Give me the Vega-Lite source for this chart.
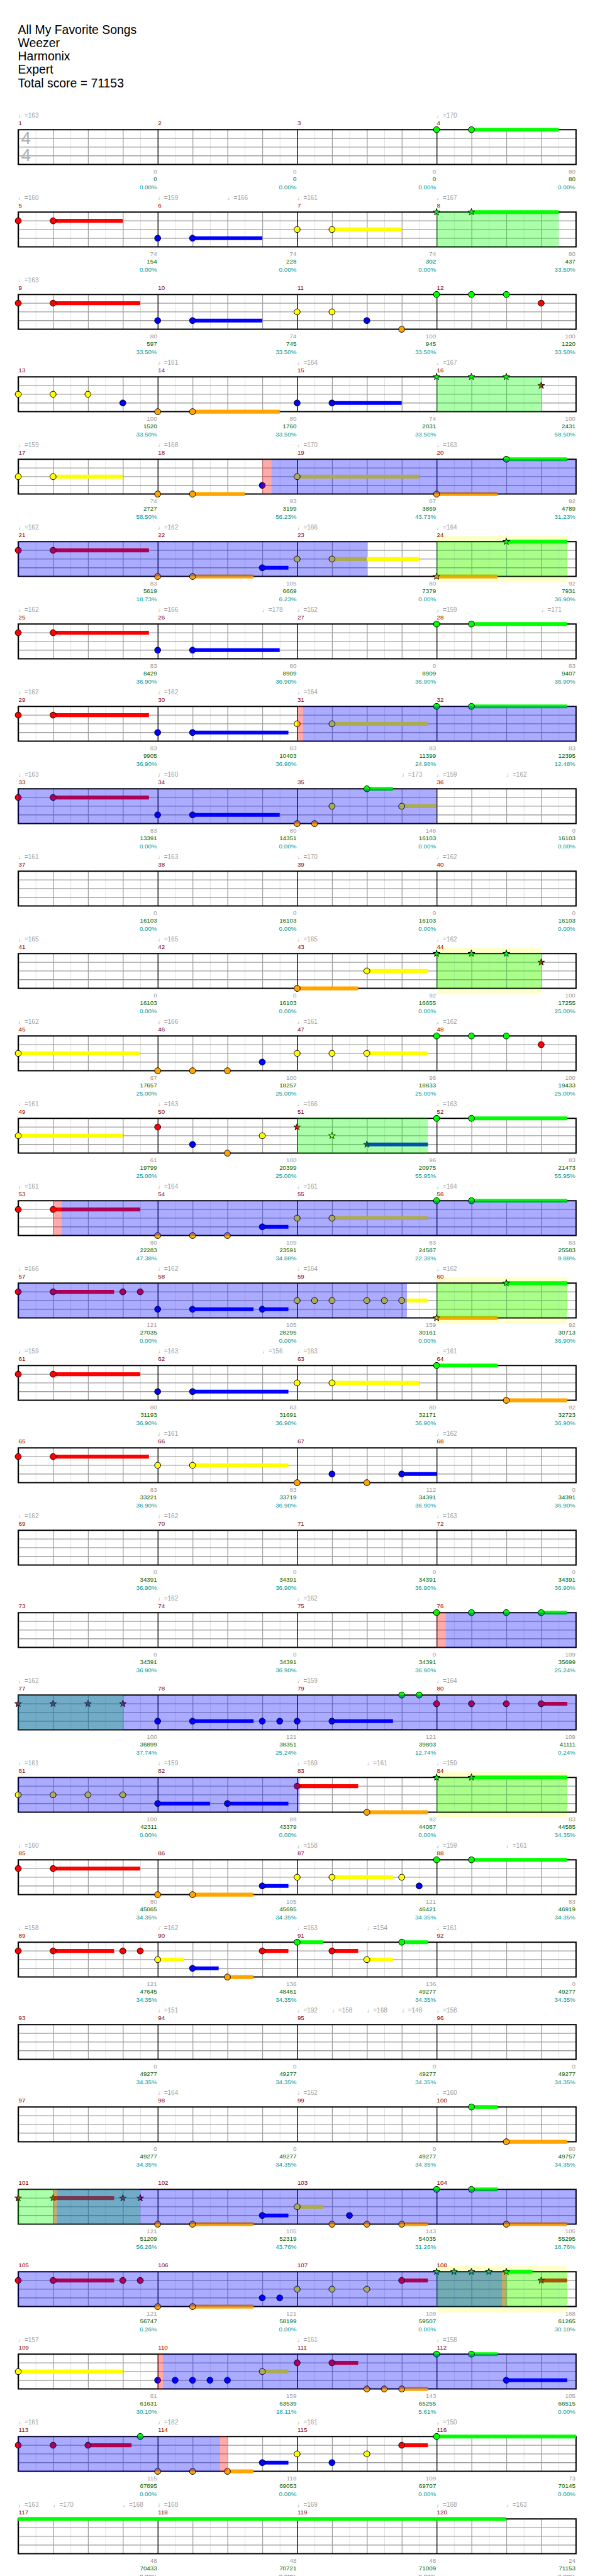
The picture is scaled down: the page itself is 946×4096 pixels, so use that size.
{
"$schema": "https://vega.github.io/schema/vega-lite/v6.json",
"padding": {"left": 0, "top": 37, "right": 0, "bottom": 0},
"title": {"text": ["All My Favorite Songs", "Weezer", "Harmonix", "Expert", "Total score = 71153"], "anchor": "start", "align": "left", "dx": 28.6, "fontSize": 19.4, "fontWeight": "normal", "font": "Liberation Sans", "lineHeight": 21.2, "offset": 30, "color": "#000000"},
"data": {"values": [
{"r":1,"k":"ts","t":"4"},
{"r":1,"k":"m","b":0,"e":4,"t":"1","s":"0","c":"0","p":"0.00%"},{"r":1,"k":"m","b":4,"e":8,"t":"2","s":"0","c":"0","p":"0.00%"},{"r":1,"k":"m","b":8,"e":12,"t":"3","s":"0","c":"0","p":"0.00%"},{"r":1,"k":"m","b":12,"e":16,"t":"4","s":"80","c":"80","p":"0.00%"},
{"r":2,"k":"m","b":0,"e":4,"t":"5","s":"74","c":"154","p":"0.00%"},{"r":2,"k":"m","b":4,"e":8,"t":"6","s":"74","c":"228","p":"0.00%"},{"r":2,"k":"m","b":8,"e":12,"t":"7","s":"74","c":"302","p":"0.00%"},{"r":2,"k":"m","b":12,"e":16,"t":"8","s":"80","c":"437","p":"33.50%"},
{"r":3,"k":"m","b":0,"e":4,"t":"9","s":"80","c":"597","p":"33.50%"},{"r":3,"k":"m","b":4,"e":8,"t":"10","s":"74","c":"745","p":"33.50%"},{"r":3,"k":"m","b":8,"e":12,"t":"11","s":"100","c":"945","p":"33.50%"},{"r":3,"k":"m","b":12,"e":16,"t":"12","s":"100","c":"1220","p":"33.50%"},
{"r":4,"k":"m","b":0,"e":4,"t":"13","s":"100","c":"1520","p":"33.50%"},{"r":4,"k":"m","b":4,"e":8,"t":"14","s":"80","c":"1760","p":"33.50%"},{"r":4,"k":"m","b":8,"e":12,"t":"15","s":"74","c":"2031","p":"33.50%"},{"r":4,"k":"m","b":12,"e":16,"t":"16","s":"100","c":"2431","p":"58.50%"},
{"r":5,"k":"m","b":0,"e":4,"t":"17","s":"74","c":"2727","p":"58.50%"},{"r":5,"k":"m","b":4,"e":8,"t":"18","s":"93","c":"3199","p":"56.23%"},{"r":5,"k":"m","b":8,"e":12,"t":"19","s":"67","c":"3869","p":"43.73%"},{"r":5,"k":"m","b":12,"e":16,"t":"20","s":"92","c":"4789","p":"31.23%"},
{"r":6,"k":"m","b":0,"e":4,"t":"21","s":"83","c":"5619","p":"18.73%"},{"r":6,"k":"m","b":4,"e":8,"t":"22","s":"105","c":"6669","p":"6.23%"},{"r":6,"k":"m","b":8,"e":12,"t":"23","s":"80","c":"7379","p":"0.00%"},{"r":6,"k":"m","b":12,"e":16,"t":"24","s":"92","c":"7931","p":"36.90%"},
{"r":7,"k":"m","b":0,"e":4,"t":"25","s":"83","c":"8429","p":"36.90%"},{"r":7,"k":"m","b":4,"e":8,"t":"26","s":"80","c":"8909","p":"36.90%"},{"r":7,"k":"m","b":8,"e":12,"t":"27","s":"0","c":"8909","p":"36.90%"},{"r":7,"k":"m","b":12,"e":16,"t":"28","s":"83","c":"9407","p":"36.90%"},
{"r":8,"k":"m","b":0,"e":4,"t":"29","s":"83","c":"9905","p":"36.90%"},{"r":8,"k":"m","b":4,"e":8,"t":"30","s":"83","c":"10403","p":"36.90%"},{"r":8,"k":"m","b":8,"e":12,"t":"31","s":"83","c":"11399","p":"24.98%"},{"r":8,"k":"m","b":12,"e":16,"t":"32","s":"83","c":"12395","p":"12.48%"},
{"r":9,"k":"m","b":0,"e":4,"t":"33","s":"83","c":"13391","p":"0.00%"},{"r":9,"k":"m","b":4,"e":8,"t":"34","s":"80","c":"14351","p":"0.00%"},{"r":9,"k":"m","b":8,"e":12,"t":"35","s":"146","c":"16103","p":"0.00%"},{"r":9,"k":"m","b":12,"e":16,"t":"36","s":"0","c":"16103","p":"0.00%"},
{"r":10,"k":"m","b":0,"e":4,"t":"37","s":"0","c":"16103","p":"0.00%"},{"r":10,"k":"m","b":4,"e":8,"t":"38","s":"0","c":"16103","p":"0.00%"},{"r":10,"k":"m","b":8,"e":12,"t":"39","s":"0","c":"16103","p":"0.00%"},{"r":10,"k":"m","b":12,"e":16,"t":"40","s":"0","c":"16103","p":"0.00%"},
{"r":11,"k":"m","b":0,"e":4,"t":"41","s":"0","c":"16103","p":"0.00%"},{"r":11,"k":"m","b":4,"e":8,"t":"42","s":"0","c":"16103","p":"0.00%"},{"r":11,"k":"m","b":8,"e":12,"t":"43","s":"92","c":"16655","p":"0.00%"},{"r":11,"k":"m","b":12,"e":16,"t":"44","s":"100","c":"17255","p":"25.00%"},
{"r":12,"k":"m","b":0,"e":4,"t":"45","s":"67","c":"17657","p":"25.00%"},{"r":12,"k":"m","b":4,"e":8,"t":"46","s":"100","c":"18257","p":"25.00%"},{"r":12,"k":"m","b":8,"e":12,"t":"47","s":"96","c":"18833","p":"25.00%"},{"r":12,"k":"m","b":12,"e":16,"t":"48","s":"100","c":"19433","p":"25.00%"},
{"r":13,"k":"m","b":0,"e":4,"t":"49","s":"61","c":"19799","p":"25.00%"},{"r":13,"k":"m","b":4,"e":8,"t":"50","s":"100","c":"20399","p":"25.00%"},{"r":13,"k":"m","b":8,"e":12,"t":"51","s":"96","c":"20975","p":"55.95%"},{"r":13,"k":"m","b":12,"e":16,"t":"52","s":"83","c":"21473","p":"55.95%"},
{"r":14,"k":"m","b":0,"e":4,"t":"53","s":"80","c":"22283","p":"47.38%"},{"r":14,"k":"m","b":4,"e":8,"t":"54","s":"109","c":"23591","p":"34.88%"},{"r":14,"k":"m","b":8,"e":12,"t":"55","s":"83","c":"24587","p":"22.38%"},{"r":14,"k":"m","b":12,"e":16,"t":"56","s":"83","c":"25583","p":"9.88%"},
{"r":15,"k":"m","b":0,"e":4,"t":"57","s":"121","c":"27035","p":"0.00%"},{"r":15,"k":"m","b":4,"e":8,"t":"58","s":"105","c":"28295","p":"0.00%"},{"r":15,"k":"m","b":8,"e":12,"t":"59","s":"159","c":"30161","p":"0.00%"},{"r":15,"k":"m","b":12,"e":16,"t":"60","s":"92","c":"30713","p":"36.90%"},
{"r":16,"k":"m","b":0,"e":4,"t":"61","s":"80","c":"31193","p":"36.90%"},{"r":16,"k":"m","b":4,"e":8,"t":"62","s":"83","c":"31691","p":"36.90%"},{"r":16,"k":"m","b":8,"e":12,"t":"63","s":"80","c":"32171","p":"36.90%"},{"r":16,"k":"m","b":12,"e":16,"t":"64","s":"92","c":"32723","p":"36.90%"},
{"r":17,"k":"m","b":0,"e":4,"t":"65","s":"83","c":"33221","p":"36.90%"},{"r":17,"k":"m","b":4,"e":8,"t":"66","s":"83","c":"33719","p":"36.90%"},{"r":17,"k":"m","b":8,"e":12,"t":"67","s":"112","c":"34391","p":"36.90%"},{"r":17,"k":"m","b":12,"e":16,"t":"68","s":"0","c":"34391","p":"36.90%"},
{"r":18,"k":"m","b":0,"e":4,"t":"69","s":"0","c":"34391","p":"36.90%"},{"r":18,"k":"m","b":4,"e":8,"t":"70","s":"0","c":"34391","p":"36.90%"},{"r":18,"k":"m","b":8,"e":12,"t":"71","s":"0","c":"34391","p":"36.90%"},{"r":18,"k":"m","b":12,"e":16,"t":"72","s":"0","c":"34391","p":"36.90%"},
{"r":19,"k":"m","b":0,"e":4,"t":"73","s":"0","c":"34391","p":"36.90%"},{"r":19,"k":"m","b":4,"e":8,"t":"74","s":"0","c":"34391","p":"36.90%"},{"r":19,"k":"m","b":8,"e":12,"t":"75","s":"0","c":"34391","p":"36.90%"},{"r":19,"k":"m","b":12,"e":16,"t":"76","s":"109","c":"35699","p":"25.24%"},
{"r":20,"k":"m","b":0,"e":4,"t":"77","s":"100","c":"36899","p":"37.74%"},{"r":20,"k":"m","b":4,"e":8,"t":"78","s":"121","c":"38351","p":"25.24%"},{"r":20,"k":"m","b":8,"e":12,"t":"79","s":"121","c":"39803","p":"12.74%"},{"r":20,"k":"m","b":12,"e":16,"t":"80","s":"109","c":"41111","p":"0.24%"},
{"r":21,"k":"m","b":0,"e":4,"t":"81","s":"100","c":"42311","p":"0.00%"},{"r":21,"k":"m","b":4,"e":8,"t":"82","s":"89","c":"43379","p":"0.00%"},{"r":21,"k":"m","b":8,"e":12,"t":"83","s":"92","c":"44087","p":"0.00%"},{"r":21,"k":"m","b":12,"e":16,"t":"84","s":"83","c":"44585","p":"34.35%"},
{"r":22,"k":"m","b":0,"e":4,"t":"85","s":"80","c":"45065","p":"34.35%"},{"r":22,"k":"m","b":4,"e":8,"t":"86","s":"105","c":"45695","p":"34.35%"},{"r":22,"k":"m","b":8,"e":12,"t":"87","s":"121","c":"46421","p":"34.35%"},{"r":22,"k":"m","b":12,"e":16,"t":"88","s":"83","c":"46919","p":"34.35%"},
{"r":23,"k":"m","b":0,"e":4,"t":"89","s":"121","c":"47645","p":"34.35%"},{"r":23,"k":"m","b":4,"e":8,"t":"90","s":"136","c":"48461","p":"34.35%"},{"r":23,"k":"m","b":8,"e":12,"t":"91","s":"136","c":"49277","p":"34.35%"},{"r":23,"k":"m","b":12,"e":16,"t":"92","s":"0","c":"49277","p":"34.35%"},
{"r":24,"k":"m","b":0,"e":4,"t":"93","s":"0","c":"49277","p":"34.35%"},{"r":24,"k":"m","b":4,"e":8,"t":"94","s":"0","c":"49277","p":"34.35%"},{"r":24,"k":"m","b":8,"e":12,"t":"95","s":"0","c":"49277","p":"34.35%"},{"r":24,"k":"m","b":12,"e":16,"t":"96","s":"0","c":"49277","p":"34.35%"},
{"r":25,"k":"m","b":0,"e":4,"t":"97","s":"0","c":"49277","p":"34.35%"},{"r":25,"k":"m","b":4,"e":8,"t":"98","s":"0","c":"49277","p":"34.35%"},{"r":25,"k":"m","b":8,"e":12,"t":"99","s":"0","c":"49277","p":"34.35%"},{"r":25,"k":"m","b":12,"e":16,"t":"100","s":"80","c":"49757","p":"34.35%"},
{"r":26,"k":"m","b":0,"e":4,"t":"101","s":"121","c":"51209","p":"56.26%"},{"r":26,"k":"m","b":4,"e":8,"t":"102","s":"105","c":"52319","p":"43.76%"},{"r":26,"k":"m","b":8,"e":12,"t":"103","s":"143","c":"54035","p":"31.26%"},{"r":26,"k":"m","b":12,"e":16,"t":"104","s":"105","c":"55295","p":"18.76%"},
{"r":27,"k":"m","b":0,"e":4,"t":"105","s":"121","c":"56747","p":"6.26%"},{"r":27,"k":"m","b":4,"e":8,"t":"106","s":"121","c":"58199","p":"0.00%"},{"r":27,"k":"m","b":8,"e":12,"t":"107","s":"109","c":"59507","p":"0.00%"},{"r":27,"k":"m","b":12,"e":16,"t":"108","s":"168","c":"61265","p":"30.10%"},
{"r":28,"k":"m","b":0,"e":4,"t":"109","s":"61","c":"61631","p":"30.10%"},{"r":28,"k":"m","b":4,"e":8,"t":"110","s":"159","c":"63539","p":"18.11%"},{"r":28,"k":"m","b":8,"e":12,"t":"111","s":"143","c":"65255","p":"5.61%"},{"r":28,"k":"m","b":12,"e":16,"t":"112","s":"105","c":"66515","p":"0.00%"},
{"r":29,"k":"m","b":0,"e":4,"t":"113","s":"115","c":"67895","p":"0.00%"},{"r":29,"k":"m","b":4,"e":8,"t":"114","s":"118","c":"69053","p":"0.00%"},{"r":29,"k":"m","b":8,"e":12,"t":"115","s":"109","c":"69707","p":"0.00%"},{"r":29,"k":"m","b":12,"e":16,"t":"116","s":"73","c":"70145","p":"0.00%"},
{"r":30,"k":"m","b":0,"e":4,"t":"117","s":"48","c":"70433","p":"0.00%"},{"r":30,"k":"m","b":4,"e":8,"t":"118","s":"48","c":"70721","p":"0.00%"},{"r":30,"k":"m","b":8,"e":12,"t":"119","s":"48","c":"71009","p":"0.00%"},{"r":30,"k":"m","b":12,"e":16,"t":"120","s":"24","c":"71153","p":"0.00%"},
{"r":1,"k":"tp","b":0,"t":"♩=163"},{"r":1,"k":"tp","b":12,"t":"♩=170"},
{"r":2,"k":"tp","b":0,"t":"♩=160"},{"r":2,"k":"tp","b":4,"t":"♩=159"},{"r":2,"k":"tp","b":6,"t":"♩=166"},{"r":2,"k":"tp","b":8,"t":"♩=161"},{"r":2,"k":"tp","b":12,"t":"♩=167"},
{"r":3,"k":"tp","b":0,"t":"♩=163"},
{"r":4,"k":"tp","b":4,"t":"♩=161"},{"r":4,"k":"tp","b":8,"t":"♩=164"},{"r":4,"k":"tp","b":12,"t":"♩=167"},
{"r":5,"k":"tp","b":0,"t":"♩=159"},{"r":5,"k":"tp","b":4,"t":"♩=168"},{"r":5,"k":"tp","b":8,"t":"♩=170"},{"r":5,"k":"tp","b":12,"t":"♩=163"},
{"r":6,"k":"tp","b":0,"t":"♩=162"},{"r":6,"k":"tp","b":4,"t":"♩=162"},{"r":6,"k":"tp","b":8,"t":"♩=166"},{"r":6,"k":"tp","b":12,"t":"♩=164"},
{"r":7,"k":"tp","b":0,"t":"♩=162"},{"r":7,"k":"tp","b":4,"t":"♩=166"},{"r":7,"k":"tp","b":7,"t":"♩=178"},{"r":7,"k":"tp","b":8,"t":"♩=162"},{"r":7,"k":"tp","b":12,"t":"♩=159"},{"r":7,"k":"tp","b":15,"t":"♩=171"},
{"r":8,"k":"tp","b":0,"t":"♩=162"},{"r":8,"k":"tp","b":4,"t":"♩=162"},{"r":8,"k":"tp","b":8,"t":"♩=164"},
{"r":9,"k":"tp","b":0,"t":"♩=163"},{"r":9,"k":"tp","b":4,"t":"♩=160"},{"r":9,"k":"tp","b":11,"t":"♩=173"},{"r":9,"k":"tp","b":12,"t":"♩=159"},{"r":9,"k":"tp","b":14,"t":"♩=162"},
{"r":10,"k":"tp","b":0,"t":"♩=161"},{"r":10,"k":"tp","b":4,"t":"♩=163"},{"r":10,"k":"tp","b":8,"t":"♩=170"},{"r":10,"k":"tp","b":12,"t":"♩=162"},
{"r":11,"k":"tp","b":0,"t":"♩=165"},{"r":11,"k":"tp","b":4,"t":"♩=165"},{"r":11,"k":"tp","b":8,"t":"♩=165"},{"r":11,"k":"tp","b":12,"t":"♩=162"},
{"r":12,"k":"tp","b":0,"t":"♩=162"},{"r":12,"k":"tp","b":4,"t":"♩=166"},{"r":12,"k":"tp","b":8,"t":"♩=161"},{"r":12,"k":"tp","b":12,"t":"♩=162"},
{"r":13,"k":"tp","b":0,"t":"♩=161"},{"r":13,"k":"tp","b":4,"t":"♩=163"},{"r":13,"k":"tp","b":8,"t":"♩=166"},{"r":13,"k":"tp","b":12,"t":"♩=163"},
{"r":14,"k":"tp","b":0,"t":"♩=161"},{"r":14,"k":"tp","b":4,"t":"♩=164"},{"r":14,"k":"tp","b":8,"t":"♩=161"},{"r":14,"k":"tp","b":12,"t":"♩=164"},
{"r":15,"k":"tp","b":0,"t":"♩=166"},{"r":15,"k":"tp","b":4,"t":"♩=162"},{"r":15,"k":"tp","b":8,"t":"♩=164"},{"r":15,"k":"tp","b":12,"t":"♩=162"},
{"r":16,"k":"tp","b":0,"t":"♩=159"},{"r":16,"k":"tp","b":4,"t":"♩=163"},{"r":16,"k":"tp","b":7,"t":"♩=156"},{"r":16,"k":"tp","b":8,"t":"♩=163"},{"r":16,"k":"tp","b":12,"t":"♩=161"},
{"r":17,"k":"tp","b":4,"t":"♩=161"},{"r":17,"k":"tp","b":12,"t":"♩=162"},
{"r":18,"k":"tp","b":0,"t":"♩=162"},{"r":18,"k":"tp","b":4,"t":"♩=162"},{"r":18,"k":"tp","b":12,"t":"♩=163"},
{"r":19,"k":"tp","b":4,"t":"♩=162"},{"r":19,"k":"tp","b":8,"t":"♩=162"},
{"r":20,"k":"tp","b":0,"t":"♩=162"},{"r":20,"k":"tp","b":8,"t":"♩=159"},{"r":20,"k":"tp","b":12,"t":"♩=164"},
{"r":21,"k":"tp","b":0,"t":"♩=161"},{"r":21,"k":"tp","b":4,"t":"♩=159"},{"r":21,"k":"tp","b":8,"t":"♩=169"},{"r":21,"k":"tp","b":10,"t":"♩=161"},{"r":21,"k":"tp","b":12,"t":"♩=159"},
{"r":22,"k":"tp","b":0,"t":"♩=160"},{"r":22,"k":"tp","b":8,"t":"♩=158"},{"r":22,"k":"tp","b":12,"t":"♩=159"},{"r":22,"k":"tp","b":14,"t":"♩=161"},
{"r":23,"k":"tp","b":0,"t":"♩=158"},{"r":23,"k":"tp","b":4,"t":"♩=162"},{"r":23,"k":"tp","b":8,"t":"♩=163"},{"r":23,"k":"tp","b":10,"t":"♩=154"},{"r":23,"k":"tp","b":12,"t":"♩=161"},
{"r":24,"k":"tp","b":4,"t":"♩=151"},{"r":24,"k":"tp","b":8,"t":"♩=192"},{"r":24,"k":"tp","b":9,"t":"♩=158"},{"r":24,"k":"tp","b":10,"t":"♩=168"},{"r":24,"k":"tp","b":11,"t":"♩=148"},{"r":24,"k":"tp","b":12,"t":"♩=158"},
{"r":25,"k":"tp","b":4,"t":"♩=164"},{"r":25,"k":"tp","b":8,"t":"♩=162"},{"r":25,"k":"tp","b":12,"t":"♩=160"},
{"r":28,"k":"tp","b":0,"t":"♩=157"},{"r":28,"k":"tp","b":8,"t":"♩=161"},{"r":28,"k":"tp","b":12,"t":"♩=158"},
{"r":29,"k":"tp","b":0,"t":"♩=161"},{"r":29,"k":"tp","b":4,"t":"♩=162"},{"r":29,"k":"tp","b":8,"t":"♩=161"},{"r":29,"k":"tp","b":12,"t":"♩=150"},
{"r":30,"k":"tp","b":0,"t":"♩=163"},{"r":30,"k":"tp","b":1,"t":"♩=170"},{"r":30,"k":"tp","b":3,"t":"♩=168"},{"r":30,"k":"tp","b":4,"t":"♩=168"},{"r":30,"k":"tp","b":8,"t":"♩=169"},{"r":30,"k":"tp","b":12,"t":"♩=168"},{"r":30,"k":"tp","b":14,"t":"♩=163"},
{"r":2,"k":"sp","b":12,"e":15.5},
{"r":4,"k":"sp","b":12,"e":15},
{"r":5,"k":"pk","b":7,"e":7.26},{"r":5,"k":"act","b":7.26,"e":16},
{"r":6,"k":"act","b":0,"e":10},{"r":6,"k":"yel","b":12,"e":15.75},{"r":6,"k":"sp","b":12,"e":15.75},
{"r":8,"k":"pk","b":8,"e":8.17},{"r":8,"k":"act","b":8.17,"e":16},
{"r":9,"k":"act","b":0,"e":12},
{"r":11,"k":"yel","b":12,"e":15},{"r":11,"k":"sp","b":12,"e":15},
{"r":13,"k":"sp","b":8,"e":11.75},
{"r":14,"k":"pk","b":1,"e":1.24},{"r":14,"k":"act","b":1.24,"e":16},
{"r":15,"k":"act","b":0,"e":11.15},{"r":15,"k":"yel","b":12,"e":15.75},{"r":15,"k":"sp","b":12,"e":15.75},
{"r":19,"k":"pk","b":12,"e":12.26},{"r":19,"k":"act","b":12.26,"e":16},
{"r":20,"k":"sp","b":0,"e":3},{"r":20,"k":"act","b":0,"e":16},
{"r":21,"k":"act","b":0,"e":8.07},{"r":21,"k":"yel","b":12,"e":15.75},{"r":21,"k":"sp","b":12,"e":15.75},
{"r":26,"k":"sp","b":0,"e":3.5},{"r":26,"k":"pk","b":1,"e":1.11},{"r":26,"k":"act","b":1.11,"e":16},
{"r":27,"k":"act","b":0,"e":13.88},{"r":27,"k":"pk","b":13.88,"e":14},{"r":27,"k":"yel","b":12,"e":15.75},{"r":27,"k":"sp","b":12,"e":15.75},
{"r":28,"k":"pk","b":4,"e":4.15},{"r":28,"k":"act","b":4.15,"e":16},
{"r":29,"k":"act","b":0,"e":5.79},{"r":29,"k":"pk","b":5.79,"e":6},
{"r":1,"k":"s","b":13,"e":15.5,"l":0},
{"r":2,"k":"s","b":1,"e":3,"l":1},{"r":2,"k":"s","b":5,"e":7,"l":3},{"r":2,"k":"s","b":9,"e":11,"l":2},{"r":2,"k":"s","b":13,"e":15.5,"l":0},
{"r":3,"k":"s","b":1,"e":3.5,"l":1},{"r":3,"k":"s","b":5,"e":7,"l":3},
{"r":4,"k":"s","b":5,"e":7.5,"l":4},{"r":4,"k":"s","b":9,"e":11,"l":3},
{"r":5,"k":"s","b":1,"e":3,"l":2},{"r":5,"k":"s","b":5,"e":6.5,"l":4},{"r":5,"k":"s","b":8,"e":11.5,"l":2},{"r":5,"k":"s","b":12,"e":13.75,"l":4},{"r":5,"k":"s","b":14,"e":15.75,"l":0},
{"r":6,"k":"s","b":1,"e":3.75,"l":1},{"r":6,"k":"s","b":5,"e":6.75,"l":4},{"r":6,"k":"s","b":7,"e":7.75,"l":3},{"r":6,"k":"s","b":9,"e":11.5,"l":2},{"r":6,"k":"s","b":12,"e":13.75,"l":4},{"r":6,"k":"s","b":14,"e":15.75,"l":0},
{"r":7,"k":"s","b":1,"e":3.75,"l":1},{"r":7,"k":"s","b":5,"e":7.5,"l":3},{"r":7,"k":"s","b":13,"e":15.75,"l":0},
{"r":8,"k":"s","b":1,"e":3.75,"l":1},{"r":8,"k":"s","b":5,"e":7.75,"l":3},{"r":8,"k":"s","b":9,"e":11.75,"l":2},{"r":8,"k":"s","b":13,"e":15.75,"l":0},
{"r":9,"k":"s","b":1,"e":3.75,"l":1},{"r":9,"k":"s","b":5,"e":7.5,"l":3},{"r":9,"k":"s","b":10,"e":10.75,"l":0},{"r":9,"k":"s","b":11,"e":12,"l":2},
{"r":11,"k":"s","b":8,"e":9.75,"l":4},{"r":11,"k":"s","b":10,"e":11.75,"l":2},
{"r":12,"k":"s","b":0,"e":3.5,"l":2},{"r":12,"k":"s","b":10,"e":11.75,"l":2},
{"r":13,"k":"s","b":0,"e":3,"l":2},{"r":13,"k":"s","b":10,"e":11.75,"l":3},{"r":13,"k":"s","b":13,"e":15.75,"l":0},
{"r":14,"k":"s","b":1,"e":3.5,"l":1},{"r":14,"k":"s","b":7,"e":7.75,"l":3},{"r":14,"k":"s","b":9,"e":11.75,"l":2},{"r":14,"k":"s","b":13,"e":15.75,"l":0},
{"r":15,"k":"s","b":1,"e":2.75,"l":1},{"r":15,"k":"s","b":5,"e":6.75,"l":3},{"r":15,"k":"s","b":7,"e":7.75,"l":3},{"r":15,"k":"s","b":11,"e":11.75,"l":2},{"r":15,"k":"s","b":12,"e":13.75,"l":4},{"r":15,"k":"s","b":14,"e":15.75,"l":0},
{"r":16,"k":"s","b":1,"e":3.5,"l":1},{"r":16,"k":"s","b":5,"e":7.75,"l":3},{"r":16,"k":"s","b":9,"e":11.5,"l":2},{"r":16,"k":"s","b":12,"e":13.75,"l":0},{"r":16,"k":"s","b":14,"e":15.75,"l":4},
{"r":17,"k":"s","b":1,"e":3.75,"l":1},{"r":17,"k":"s","b":5,"e":7.75,"l":2},{"r":17,"k":"s","b":11,"e":12,"l":3},
{"r":19,"k":"s","b":15,"e":15.75,"l":0},
{"r":20,"k":"s","b":5,"e":6.75,"l":3},{"r":20,"k":"s","b":9,"e":10.75,"l":3},{"r":20,"k":"s","b":15,"e":15.75,"l":1},
{"r":21,"k":"s","b":4,"e":5.5,"l":3},{"r":21,"k":"s","b":6,"e":7.75,"l":3},{"r":21,"k":"s","b":8,"e":9.75,"l":1},{"r":21,"k":"s","b":10,"e":11.75,"l":4},{"r":21,"k":"s","b":13,"e":15.75,"l":0},
{"r":22,"k":"s","b":1,"e":3.5,"l":1},{"r":22,"k":"s","b":5,"e":6.75,"l":4},{"r":22,"k":"s","b":7,"e":7.75,"l":3},{"r":22,"k":"s","b":9,"e":10.75,"l":2},{"r":22,"k":"s","b":13,"e":15.75,"l":0},
{"r":23,"k":"s","b":1,"e":2.75,"l":1},{"r":23,"k":"s","b":4,"e":4.75,"l":2},{"r":23,"k":"s","b":5,"e":5.75,"l":3},{"r":23,"k":"s","b":6,"e":6.75,"l":4},{"r":23,"k":"s","b":7,"e":7.75,"l":1},{"r":23,"k":"s","b":8,"e":8.75,"l":0},{"r":23,"k":"s","b":9,"e":9.75,"l":1},{"r":23,"k":"s","b":10,"e":10.75,"l":2},{"r":23,"k":"s","b":11,"e":11.75,"l":0},
{"r":25,"k":"s","b":13,"e":13.75,"l":0},{"r":25,"k":"s","b":14,"e":15.75,"l":4},
{"r":26,"k":"s","b":1,"e":2.75,"l":1},{"r":26,"k":"s","b":5,"e":6.75,"l":4},{"r":26,"k":"s","b":7,"e":7.75,"l":3},{"r":26,"k":"s","b":8,"e":8.75,"l":2},{"r":26,"k":"s","b":11,"e":11.75,"l":4},{"r":26,"k":"s","b":13,"e":13.75,"l":0},{"r":26,"k":"s","b":14,"e":15.75,"l":4},
{"r":27,"k":"s","b":1,"e":2.75,"l":1},{"r":27,"k":"s","b":5,"e":6.75,"l":4},{"r":27,"k":"s","b":11,"e":11.75,"l":1},{"r":27,"k":"s","b":14,"e":14.75,"l":0},{"r":27,"k":"s","b":15,"e":15.75,"l":1},
{"r":28,"k":"s","b":0,"e":3,"l":2},{"r":28,"k":"s","b":7,"e":7.75,"l":2},{"r":28,"k":"s","b":9,"e":9.75,"l":1},{"r":28,"k":"s","b":11,"e":11.75,"l":4},{"r":28,"k":"s","b":13,"e":13.75,"l":0},{"r":28,"k":"s","b":14,"e":15.75,"l":3},
{"r":29,"k":"s","b":2,"e":3.25,"l":1},{"r":29,"k":"s","b":6,"e":6.75,"l":4},{"r":29,"k":"s","b":7,"e":7.75,"l":3},{"r":29,"k":"s","b":11,"e":11.75,"l":1},{"r":29,"k":"s","b":12,"e":16,"l":0},
{"r":30,"k":"s","b":0,"e":14,"l":0},
{"r":1,"k":"n","b":12,"l":0},{"r":1,"k":"n","b":13,"l":0},
{"r":2,"k":"n","b":0,"l":1},{"r":2,"k":"n","b":1,"l":1},{"r":2,"k":"n","b":4,"l":3},{"r":2,"k":"n","b":5,"l":3},{"r":2,"k":"n","b":8,"l":2},{"r":2,"k":"n","b":9,"l":2},{"r":2,"k":"ns","b":12,"l":0},{"r":2,"k":"ns","b":13,"l":0},
{"r":3,"k":"n","b":0,"l":1},{"r":3,"k":"n","b":1,"l":1},{"r":3,"k":"n","b":4,"l":3},{"r":3,"k":"n","b":5,"l":3},{"r":3,"k":"n","b":8,"l":2},{"r":3,"k":"n","b":9,"l":2},{"r":3,"k":"n","b":10,"l":3},{"r":3,"k":"n","b":11,"l":4},{"r":3,"k":"n","b":12,"l":0},{"r":3,"k":"n","b":13,"l":0},{"r":3,"k":"n","b":14,"l":0},{"r":3,"k":"n","b":15,"l":1},
{"r":4,"k":"n","b":0,"l":2},{"r":4,"k":"n","b":1,"l":2},{"r":4,"k":"n","b":2,"l":2},{"r":4,"k":"n","b":3,"l":3},{"r":4,"k":"n","b":4,"l":4},{"r":4,"k":"n","b":5,"l":4},{"r":4,"k":"n","b":8,"l":3},{"r":4,"k":"n","b":9,"l":3},{"r":4,"k":"ns","b":12,"l":0},{"r":4,"k":"ns","b":13,"l":0},{"r":4,"k":"ns","b":14,"l":0},{"r":4,"k":"ns","b":15,"l":1},
{"r":5,"k":"n","b":0,"l":2},{"r":5,"k":"n","b":1,"l":2},{"r":5,"k":"n","b":4,"l":4},{"r":5,"k":"n","b":5,"l":4},{"r":5,"k":"n","b":7,"l":3},{"r":5,"k":"n","b":8,"l":2},{"r":5,"k":"n","b":12,"l":4},{"r":5,"k":"n","b":14,"l":0},
{"r":6,"k":"n","b":0,"l":1},{"r":6,"k":"n","b":1,"l":1},{"r":6,"k":"n","b":4,"l":4},{"r":6,"k":"n","b":5,"l":4},{"r":6,"k":"n","b":7,"l":3},{"r":6,"k":"n","b":8,"l":2},{"r":6,"k":"n","b":9,"l":2},{"r":6,"k":"ns","b":12,"l":4},{"r":6,"k":"ns","b":14,"l":0},
{"r":7,"k":"n","b":0,"l":1},{"r":7,"k":"n","b":1,"l":1},{"r":7,"k":"n","b":4,"l":3},{"r":7,"k":"n","b":5,"l":3},{"r":7,"k":"n","b":12,"l":0},{"r":7,"k":"n","b":13,"l":0},
{"r":8,"k":"n","b":0,"l":1},{"r":8,"k":"n","b":1,"l":1},{"r":8,"k":"n","b":4,"l":3},{"r":8,"k":"n","b":5,"l":3},{"r":8,"k":"n","b":8,"l":2},{"r":8,"k":"n","b":9,"l":2},{"r":8,"k":"n","b":12,"l":0},{"r":8,"k":"n","b":13,"l":0},
{"r":9,"k":"n","b":0,"l":1},{"r":9,"k":"n","b":1,"l":1},{"r":9,"k":"n","b":4,"l":3},{"r":9,"k":"n","b":5,"l":3},{"r":9,"k":"n","b":8,"l":4},{"r":9,"k":"n","b":8.5,"l":4},{"r":9,"k":"n","b":9,"l":2},{"r":9,"k":"n","b":10,"l":0},{"r":9,"k":"n","b":11,"l":2},
{"r":11,"k":"n","b":8,"l":4},{"r":11,"k":"n","b":10,"l":2},{"r":11,"k":"ns","b":12,"l":0},{"r":11,"k":"ns","b":13,"l":0},{"r":11,"k":"ns","b":14,"l":0},{"r":11,"k":"ns","b":15,"l":1},
{"r":12,"k":"n","b":0,"l":2},{"r":12,"k":"n","b":4,"l":4},{"r":12,"k":"n","b":5,"l":4},{"r":12,"k":"n","b":6,"l":4},{"r":12,"k":"n","b":7,"l":3},{"r":12,"k":"n","b":8,"l":2},{"r":12,"k":"n","b":9,"l":2},{"r":12,"k":"n","b":10,"l":2},{"r":12,"k":"n","b":12,"l":0},{"r":12,"k":"n","b":13,"l":0},{"r":12,"k":"n","b":14,"l":0},{"r":12,"k":"n","b":15,"l":1},
{"r":13,"k":"n","b":0,"l":2},{"r":13,"k":"n","b":4,"l":1},{"r":13,"k":"n","b":5,"l":3},{"r":13,"k":"n","b":6,"l":4},{"r":13,"k":"n","b":7,"l":2},{"r":13,"k":"ns","b":8,"l":1},{"r":13,"k":"ns","b":9,"l":2},{"r":13,"k":"ns","b":10,"l":3},{"r":13,"k":"n","b":12,"l":0},{"r":13,"k":"n","b":13,"l":0},
{"r":14,"k":"n","b":0,"l":1},{"r":14,"k":"n","b":1,"l":1},{"r":14,"k":"n","b":4,"l":4},{"r":14,"k":"n","b":5,"l":4},{"r":14,"k":"n","b":6,"l":4},{"r":14,"k":"n","b":7,"l":3},{"r":14,"k":"n","b":8,"l":2},{"r":14,"k":"n","b":9,"l":2},{"r":14,"k":"n","b":12,"l":0},{"r":14,"k":"n","b":13,"l":0},
{"r":15,"k":"n","b":0,"l":1},{"r":15,"k":"n","b":1,"l":1},{"r":15,"k":"n","b":3,"l":1},{"r":15,"k":"n","b":3.5,"l":1},{"r":15,"k":"n","b":4,"l":3},{"r":15,"k":"n","b":5,"l":3},{"r":15,"k":"n","b":7,"l":3},{"r":15,"k":"n","b":8,"l":2},{"r":15,"k":"n","b":8.5,"l":2},{"r":15,"k":"n","b":9,"l":2},{"r":15,"k":"n","b":10,"l":2},{"r":15,"k":"n","b":10.5,"l":2},{"r":15,"k":"n","b":11,"l":2},{"r":15,"k":"ns","b":12,"l":4},{"r":15,"k":"ns","b":14,"l":0},
{"r":16,"k":"n","b":0,"l":1},{"r":16,"k":"n","b":1,"l":1},{"r":16,"k":"n","b":4,"l":3},{"r":16,"k":"n","b":5,"l":3},{"r":16,"k":"n","b":8,"l":2},{"r":16,"k":"n","b":9,"l":2},{"r":16,"k":"n","b":12,"l":0},{"r":16,"k":"n","b":14,"l":4},
{"r":17,"k":"n","b":0,"l":1},{"r":17,"k":"n","b":1,"l":1},{"r":17,"k":"n","b":4,"l":2},{"r":17,"k":"n","b":5,"l":2},{"r":17,"k":"n","b":8,"l":4},{"r":17,"k":"n","b":9,"l":3},{"r":17,"k":"n","b":10,"l":4},{"r":17,"k":"n","b":11,"l":3},
{"r":19,"k":"n","b":12,"l":0},{"r":19,"k":"n","b":13,"l":0},{"r":19,"k":"n","b":14,"l":0},{"r":19,"k":"n","b":15,"l":0},
{"r":20,"k":"ns","b":0,"l":1},{"r":20,"k":"ns","b":1,"l":1},{"r":20,"k":"ns","b":2,"l":1},{"r":20,"k":"ns","b":3,"l":1},{"r":20,"k":"n","b":4,"l":3},{"r":20,"k":"n","b":5,"l":3},{"r":20,"k":"n","b":7,"l":3},{"r":20,"k":"n","b":7.5,"l":3},{"r":20,"k":"n","b":8,"l":3},{"r":20,"k":"n","b":9,"l":3},{"r":20,"k":"n","b":11,"l":0},{"r":20,"k":"n","b":11.5,"l":0},{"r":20,"k":"n","b":12,"l":1},{"r":20,"k":"n","b":13,"l":1},{"r":20,"k":"n","b":14,"l":1},{"r":20,"k":"n","b":15,"l":1},
{"r":21,"k":"n","b":0,"l":2},{"r":21,"k":"n","b":1,"l":2},{"r":21,"k":"n","b":2,"l":2},{"r":21,"k":"n","b":3,"l":2},{"r":21,"k":"n","b":4,"l":3},{"r":21,"k":"n","b":6,"l":3},{"r":21,"k":"n","b":8,"l":1},{"r":21,"k":"n","b":10,"l":4},{"r":21,"k":"ns","b":12,"l":0},{"r":21,"k":"ns","b":13,"l":0},
{"r":22,"k":"n","b":0,"l":1},{"r":22,"k":"n","b":1,"l":1},{"r":22,"k":"n","b":4,"l":4},{"r":22,"k":"n","b":5,"l":4},{"r":22,"k":"n","b":7,"l":3},{"r":22,"k":"n","b":8,"l":2},{"r":22,"k":"n","b":9,"l":2},{"r":22,"k":"n","b":11,"l":2},{"r":22,"k":"n","b":11.5,"l":3},{"r":22,"k":"n","b":12,"l":0},{"r":22,"k":"n","b":13,"l":0},
{"r":23,"k":"n","b":0,"l":1},{"r":23,"k":"n","b":1,"l":1},{"r":23,"k":"n","b":3,"l":1},{"r":23,"k":"n","b":3.5,"l":1},{"r":23,"k":"n","b":4,"l":2},{"r":23,"k":"n","b":5,"l":3},{"r":23,"k":"n","b":6,"l":4},{"r":23,"k":"n","b":7,"l":1},{"r":23,"k":"n","b":8,"l":0},{"r":23,"k":"n","b":9,"l":1},{"r":23,"k":"n","b":10,"l":2},{"r":23,"k":"n","b":11,"l":0},
{"r":25,"k":"n","b":13,"l":0},{"r":25,"k":"n","b":14,"l":4},
{"r":26,"k":"ns","b":0,"l":1},{"r":26,"k":"ns","b":1,"l":1},{"r":26,"k":"ns","b":3,"l":1},{"r":26,"k":"ns","b":3.5,"l":1},{"r":26,"k":"n","b":4,"l":4},{"r":26,"k":"n","b":5,"l":4},{"r":26,"k":"n","b":7,"l":3},{"r":26,"k":"n","b":8,"l":2},{"r":26,"k":"n","b":9,"l":4},{"r":26,"k":"n","b":9.5,"l":3},{"r":26,"k":"n","b":10,"l":4},{"r":26,"k":"n","b":11,"l":4},{"r":26,"k":"n","b":12,"l":0},{"r":26,"k":"n","b":13,"l":0},{"r":26,"k":"n","b":14,"l":4},
{"r":27,"k":"n","b":0,"l":1},{"r":27,"k":"n","b":1,"l":1},{"r":27,"k":"n","b":3,"l":1},{"r":27,"k":"n","b":3.5,"l":1},{"r":27,"k":"n","b":4,"l":4},{"r":27,"k":"n","b":5,"l":4},{"r":27,"k":"n","b":7,"l":3},{"r":27,"k":"n","b":7.5,"l":3},{"r":27,"k":"n","b":8,"l":2},{"r":27,"k":"n","b":9,"l":2},{"r":27,"k":"n","b":10,"l":2},{"r":27,"k":"n","b":11,"l":1},{"r":27,"k":"ns","b":12,"l":0},{"r":27,"k":"ns","b":12.5,"l":0},{"r":27,"k":"ns","b":13,"l":0},{"r":27,"k":"ns","b":13.5,"l":0},{"r":27,"k":"ns","b":14,"l":0},{"r":27,"k":"ns","b":15,"l":1},
{"r":28,"k":"n","b":0,"l":2},{"r":28,"k":"n","b":4,"l":3},{"r":28,"k":"n","b":4.5,"l":3},{"r":28,"k":"n","b":5,"l":3},{"r":28,"k":"n","b":5.5,"l":3},{"r":28,"k":"n","b":6,"l":3},{"r":28,"k":"n","b":7,"l":2},{"r":28,"k":"n","b":8,"l":1},{"r":28,"k":"n","b":9,"l":1},{"r":28,"k":"n","b":10,"l":4},{"r":28,"k":"n","b":10.5,"l":4},{"r":28,"k":"n","b":11,"l":4},{"r":28,"k":"n","b":12,"l":0},{"r":28,"k":"n","b":13,"l":0},{"r":28,"k":"n","b":14,"l":3},
{"r":29,"k":"n","b":0,"l":1},{"r":29,"k":"n","b":1,"l":1},{"r":29,"k":"n","b":2,"l":1},{"r":29,"k":"n","b":3.5,"l":0},{"r":29,"k":"n","b":4,"l":4},{"r":29,"k":"n","b":5,"l":4},{"r":29,"k":"n","b":6,"l":4},{"r":29,"k":"n","b":7,"l":3},{"r":29,"k":"n","b":8,"l":2},{"r":29,"k":"n","b":9,"l":3},{"r":29,"k":"n","b":10,"l":2},{"r":29,"k":"n","b":11,"l":1},{"r":29,"k":"n","b":12,"l":0}
]},
"facet": {"row": {"field": "r", "type": "ordinal", "header": {"title": null, "labels": false}}},
"spacing": 0,
"spec": {
"width": 946,
"height": 130.14,
"layer": [
{"transform": [{"filter": {"field": "k", "equal": "yel"}}],
 "mark": {"type": "rect", "fill": "#ffffcc"},
 "encoding": {"x": {"field": "b", "type": "quantitative", "scale": {"domain": [-0.5225, 16.5442], "nice": false, "zero": false}, "axis": null}, "x2": {"field": "e"},
  "y": {"datum": -0.67, "type": "quantitative", "scale": {"domain": [-2.4, 7.0], "reverse": true, "nice": false, "zero": false}, "axis": null}, "y2": {"datum": 4.67}}},
{"transform": [{"filter": {"and": [{"field": "k", "equal": "m"}, {"field": "b", "equal": 0}]}}],
 "mark": {"type": "rule", "stroke": "#e2e2e2", "strokeWidth": 55.38, "strokeDash": [1, 26.7148], "strokeCap": "butt"},
 "encoding": {"x": {"datum": 0, "type": "quantitative", "scale": {"domain": [-0.5225, 16.5442], "nice": false, "zero": false}, "axis": null}, "x2": {"datum": 16},
  "y": {"datum": 2, "type": "quantitative", "scale": {"domain": [-2.4, 7.0], "reverse": true, "nice": false, "zero": false}, "axis": null}}},
{"transform": [{"filter": {"and": [{"field": "k", "equal": "m"}, {"field": "b", "equal": 0}]}}],
 "mark": {"type": "rule", "stroke": "#a0a0a0", "strokeWidth": 55.38, "strokeDash": [1.2, 54.2297], "strokeCap": "butt"},
 "encoding": {"x": {"datum": 0, "type": "quantitative", "scale": {"domain": [-0.5225, 16.5442], "nice": false, "zero": false}, "axis": null}, "x2": {"datum": 16},
  "y": {"datum": 2, "type": "quantitative", "scale": {"domain": [-2.4, 7.0], "reverse": true, "nice": false, "zero": false}, "axis": null}}},
{"transform": [{"filter": {"and": [{"field": "k", "equal": "m"}, {"field": "b", "equal": 0}]}}],
 "mark": {"type": "rule", "stroke": "#a0a0a0", "strokeWidth": 1.3},
 "encoding": {"x": {"datum": 0, "type": "quantitative", "scale": {"domain": [-0.5225, 16.5442], "nice": false, "zero": false}, "axis": null}, "x2": {"datum": 16},
  "y": {"datum": 1, "type": "quantitative", "scale": {"domain": [-2.4, 7.0], "reverse": true, "nice": false, "zero": false}, "axis": null}}},
{"transform": [{"filter": {"and": [{"field": "k", "equal": "m"}, {"field": "b", "equal": 0}]}}],
 "mark": {"type": "rule", "stroke": "#a0a0a0", "strokeWidth": 1.3},
 "encoding": {"x": {"datum": 0, "type": "quantitative", "scale": {"domain": [-0.5225, 16.5442], "nice": false, "zero": false}, "axis": null}, "x2": {"datum": 16},
  "y": {"datum": 2, "type": "quantitative", "scale": {"domain": [-2.4, 7.0], "reverse": true, "nice": false, "zero": false}, "axis": null}}},
{"transform": [{"filter": {"and": [{"field": "k", "equal": "m"}, {"field": "b", "equal": 0}]}}],
 "mark": {"type": "rule", "stroke": "#a0a0a0", "strokeWidth": 1.3},
 "encoding": {"x": {"datum": 0, "type": "quantitative", "scale": {"domain": [-0.5225, 16.5442], "nice": false, "zero": false}, "axis": null}, "x2": {"datum": 16},
  "y": {"datum": 3, "type": "quantitative", "scale": {"domain": [-2.4, 7.0], "reverse": true, "nice": false, "zero": false}, "axis": null}}},
{"transform": [{"filter": {"and": [{"field": "k", "equal": "m"}, {"field": "b", "equal": 0}]}}],
 "mark": {"type": "rule", "stroke": "#000000", "strokeWidth": 55.38, "strokeDash": [1.2, 220.5188], "strokeCap": "butt"},
 "encoding": {"x": {"datum": 0, "type": "quantitative", "scale": {"domain": [-0.5225, 16.5442], "nice": false, "zero": false}, "axis": null}, "x2": {"datum": 16},
  "y": {"datum": 2, "type": "quantitative", "scale": {"domain": [-2.4, 7.0], "reverse": true, "nice": false, "zero": false}, "axis": null}}},
{"transform": [{"filter": {"field": "k", "equal": "ts"}}],
 "mark": {"type": "text", "fontSize": 28, "font": "Liberation Sans", "color": "#b0b0b0", "align": "center", "baseline": "middle"},
 "encoding": {"x": {"datum": 0.22, "type": "quantitative", "scale": {"domain": [-0.5225, 16.5442], "nice": false, "zero": false}, "axis": null},
  "y": {"datum": 1.07, "type": "quantitative", "scale": {"domain": [-2.4, 7.0], "reverse": true, "nice": false, "zero": false}, "axis": null}, "text": {"field": "t"}}},
{"transform": [{"filter": {"field": "k", "equal": "ts"}}],
 "mark": {"type": "text", "fontSize": 28, "font": "Liberation Sans", "color": "#b0b0b0", "align": "center", "baseline": "middle"},
 "encoding": {"x": {"datum": 0.22, "type": "quantitative", "scale": {"domain": [-0.5225, 16.5442], "nice": false, "zero": false}, "axis": null},
  "y": {"datum": 3.03, "type": "quantitative", "scale": {"domain": [-2.4, 7.0], "reverse": true, "nice": false, "zero": false}, "axis": null}, "text": {"field": "t"}}},
{"transform": [{"filter": {"and": [{"field": "k", "equal": "m"}, {"field": "b", "equal": 0}]}}],
 "mark": {"type": "rect", "fillOpacity": 0, "fill": "#ffffff", "stroke": "#000000", "strokeWidth": 2},
 "encoding": {"x": {"datum": 0, "type": "quantitative", "scale": {"domain": [-0.5225, 16.5442], "nice": false, "zero": false}, "axis": null}, "x2": {"datum": 16},
  "y": {"datum": 0, "type": "quantitative", "scale": {"domain": [-2.4, 7.0], "reverse": true, "nice": false, "zero": false}, "axis": null}, "y2": {"datum": 4}}},
{"transform": [{"filter": {"field": "k", "equal": "s"}}],
 "mark": {"type": "rule", "strokeWidth": 6.2, "strokeCap": "butt", "opacity": 1},
 "encoding": {"x": {"field": "b", "type": "quantitative", "scale": {"domain": [-0.5225, 16.5442], "nice": false, "zero": false}, "axis": null}, "x2": {"field": "e"},
  "y": {"field": "l", "type": "quantitative", "scale": {"domain": [-2.4, 7.0], "reverse": true, "nice": false, "zero": false}, "axis": null},
  "color": {"field": "l", "type": "nominal", "scale": {"domain": [0, 1, 2, 3, 4], "range": ["#00ff00", "#ff0000", "#ffff00", "#0000ff", "#ffa500"]}, "legend": null}}},
{"transform": [{"filter": {"field": "k", "equal": "n"}}],
 "mark": {"type": "point", "shape": "circle", "filled": true, "size": 94, "stroke": "#000000", "strokeWidth": 1, "opacity": 1},
 "encoding": {"x": {"field": "b", "type": "quantitative", "scale": {"domain": [-0.5225, 16.5442], "nice": false, "zero": false}, "axis": null},
  "y": {"field": "l", "type": "quantitative", "scale": {"domain": [-2.4, 7.0], "reverse": true, "nice": false, "zero": false}, "axis": null},
  "color": {"field": "l", "type": "nominal", "scale": {"domain": [0, 1, 2, 3, 4], "range": ["#00ff00", "#ff0000", "#ffff00", "#0000ff", "#ffa500"]}, "legend": null}}},
{"transform": [{"filter": {"field": "k", "equal": "ns"}}],
 "mark": {"type": "point", "shape": "M0,-1L0.2245,-0.309L0.951,-0.309L0.363,0.118L0.588,0.809L0,0.382L-0.588,0.809L-0.363,0.118L-0.951,-0.309L-0.2245,-0.309Z", "filled": true, "size": 130, "stroke": "#000000", "strokeWidth": 1, "opacity": 1},
 "encoding": {"x": {"field": "b", "type": "quantitative", "scale": {"domain": [-0.5225, 16.5442], "nice": false, "zero": false}, "axis": null},
  "y": {"field": "l", "type": "quantitative", "scale": {"domain": [-2.4, 7.0], "reverse": true, "nice": false, "zero": false}, "axis": null},
  "color": {"field": "l", "type": "nominal", "scale": {"domain": [0, 1, 2, 3, 4], "range": ["#00ff00", "#ff0000", "#ffff00", "#0000ff", "#ffa500"]}, "legend": null}}},
{"transform": [{"filter": {"field": "k", "equal": "sp"}}],
 "mark": {"type": "rect", "fill": "#00ff00", "opacity": 0.33},
 "encoding": {"x": {"field": "b", "type": "quantitative", "scale": {"domain": [-0.5225, 16.5442], "nice": false, "zero": false}, "axis": null}, "x2": {"field": "e"},
  "y": {"datum": 0, "type": "quantitative", "scale": {"domain": [-2.4, 7.0], "reverse": true, "nice": false, "zero": false}, "axis": null}, "y2": {"datum": 4}}},
{"transform": [{"filter": {"field": "k", "equal": "pk"}}],
 "mark": {"type": "rect", "fill": "#ff0000", "opacity": 0.33},
 "encoding": {"x": {"field": "b", "type": "quantitative", "scale": {"domain": [-0.5225, 16.5442], "nice": false, "zero": false}, "axis": null}, "x2": {"field": "e"},
  "y": {"datum": 0, "type": "quantitative", "scale": {"domain": [-2.4, 7.0], "reverse": true, "nice": false, "zero": false}, "axis": null}, "y2": {"datum": 4}}},
{"transform": [{"filter": {"field": "k", "equal": "act"}}],
 "mark": {"type": "rect", "fill": "#0000ff", "opacity": 0.33},
 "encoding": {"x": {"field": "b", "type": "quantitative", "scale": {"domain": [-0.5225, 16.5442], "nice": false, "zero": false}, "axis": null}, "x2": {"field": "e"},
  "y": {"datum": 0, "type": "quantitative", "scale": {"domain": [-2.4, 7.0], "reverse": true, "nice": false, "zero": false}, "axis": null}, "y2": {"datum": 4}}},
{"transform": [{"filter": {"field": "k", "equal": "m"}}],
 "mark": {"type": "text", "fontSize": 9.8, "font": "Liberation Sans", "color": "#8b0000", "align": "left", "baseline": "middle", "dx": 0.5},
 "encoding": {"x": {"field": "b", "type": "quantitative", "scale": {"domain": [-0.5225, 16.5442], "nice": false, "zero": false}, "axis": null},
  "y": {"datum": -0.74, "type": "quantitative", "scale": {"domain": [-2.4, 7.0], "reverse": true, "nice": false, "zero": false}, "axis": null}, "text": {"field": "t"}}},
{"transform": [{"filter": {"field": "k", "equal": "m"}}],
 "mark": {"type": "text", "fontSize": 9.8, "font": "Liberation Sans", "color": "#999999", "align": "right", "baseline": "middle", "dx": -1},
 "encoding": {"x": {"field": "e", "type": "quantitative", "scale": {"domain": [-0.5225, 16.5442], "nice": false, "zero": false}, "axis": null},
  "y": {"datum": 4.85, "type": "quantitative", "scale": {"domain": [-2.4, 7.0], "reverse": true, "nice": false, "zero": false}, "axis": null}, "text": {"field": "s"}}},
{"transform": [{"filter": {"field": "k", "equal": "m"}}],
 "mark": {"type": "text", "fontSize": 9.8, "font": "Liberation Sans", "color": "#006400", "align": "right", "baseline": "middle", "dx": -1},
 "encoding": {"x": {"field": "e", "type": "quantitative", "scale": {"domain": [-0.5225, 16.5442], "nice": false, "zero": false}, "axis": null},
  "y": {"datum": 5.71, "type": "quantitative", "scale": {"domain": [-2.4, 7.0], "reverse": true, "nice": false, "zero": false}, "axis": null}, "text": {"field": "c"}}},
{"transform": [{"filter": {"field": "k", "equal": "m"}}],
 "mark": {"type": "text", "fontSize": 9.8, "font": "Liberation Sans", "color": "#009999", "align": "right", "baseline": "middle", "dx": -1},
 "encoding": {"x": {"field": "e", "type": "quantitative", "scale": {"domain": [-0.5225, 16.5442], "nice": false, "zero": false}, "axis": null},
  "y": {"datum": 6.61, "type": "quantitative", "scale": {"domain": [-2.4, 7.0], "reverse": true, "nice": false, "zero": false}, "axis": null}, "text": {"field": "p"}}},
{"transform": [{"filter": {"field": "k", "equal": "tp"}}],
 "mark": {"type": "text", "fontSize": 10, "font": "Liberation Sans", "color": "#a0a0a0", "align": "left", "baseline": "middle"},
 "encoding": {"x": {"field": "b", "type": "quantitative", "scale": {"domain": [-0.5225, 16.5442], "nice": false, "zero": false}, "axis": null},
  "y": {"datum": -1.6, "type": "quantitative", "scale": {"domain": [-2.4, 7.0], "reverse": true, "nice": false, "zero": false}, "axis": null}, "text": {"field": "t"}}}
]
},
"config": {"view": {"stroke": null}, "font": "Liberation Sans"}
}
